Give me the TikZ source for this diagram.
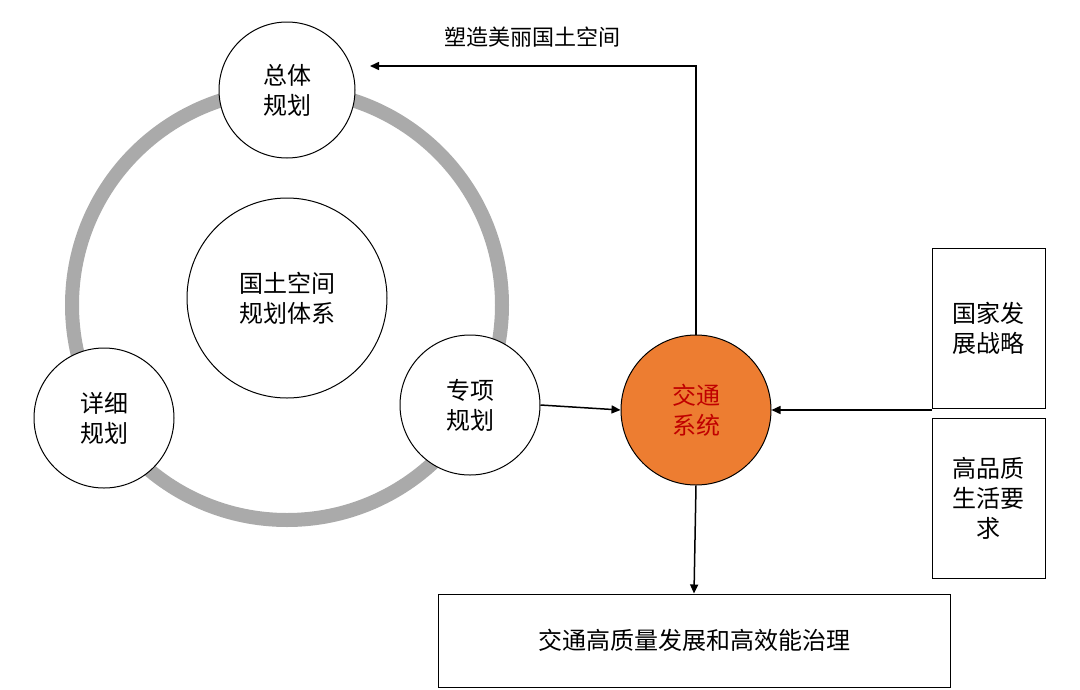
\documentclass[tikz,border=0pt]{standalone}
\usepackage{fontspec}
\setmainfont{Noto Sans CJK SC}
\usetikzlibrary{arrows.meta}
\begin{document}
\begin{tikzpicture}[x=1pt,y=-1pt,
  circ/.style={circle,draw=black,line width=1pt,fill=white,inner sep=0pt,align=center,font=\fontsize{24}{30}\selectfont},
  bx/.style={draw=black,line width=1pt,align=center,font=\fontsize{24}{30}\selectfont},
  arr/.style={line width=1.5pt,-{Triangle[length=9pt,width=8pt]}}]
\useasboundingbox (0,0) rectangle (1080,689);
\definecolor{ringgray}{RGB}{170,170,170}
\definecolor{org}{RGB}{237,125,49}
\definecolor{redt}{RGB}{192,0,0}
\draw[ringgray,line width=14pt] (287,305) circle (215);
\node[circ,minimum size=136pt] (zt) at (287,90) {总体\\规划};
\node[circ,minimum size=200pt] (gt) at (287,298) {国土空间\\规划体系};
\node[circ,minimum size=140pt] (xx) at (104,418) {详细\\规划};
\node[circ,minimum size=140pt] (zx) at (470,405) {专项\\规划};
\node[circ,minimum size=150pt,fill=org,text=redt] (jt) at (696,410) {交通\\系统};
\node[bx,minimum width=113pt,minimum height=160pt] (gj) at (988.5,328) {国家发\\展战略};
\node[bx,minimum width=113pt,minimum height=160pt] (gp) at (988.5,498) {高品质\\生活要\\求};
\node[bx,minimum width=512pt,minimum height=93pt] (bt) at (694,640.5) {交通高质量发展和高效能治理};
\node[font=\fontsize{22}{26}\selectfont] (lb) at (532,37) {塑造美丽国土空间};
\coordinate (c1) at (696,66);
\coordinate (c2) at (370,66);
\coordinate (c3) at (932,410);
\draw[arr] (zx.east) -- (jt.west);
\draw[arr] (c3) -- (jt.east);
\draw[arr] (jt.south) -- (bt.north);
\draw[arr] (jt.north) -- (c1) -- (c2);
\end{tikzpicture}
\end{document}
